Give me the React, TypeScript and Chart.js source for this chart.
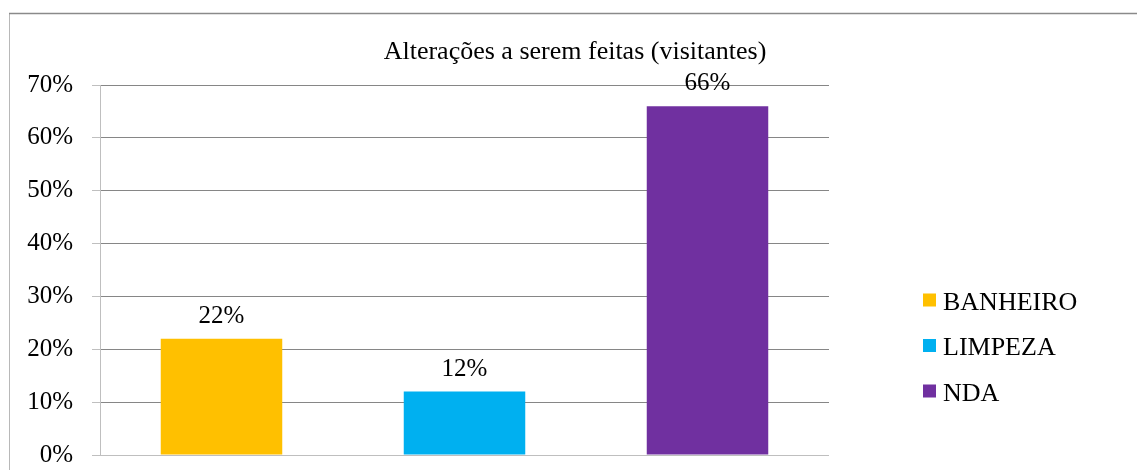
import React, { useEffect, useRef } from "react";
import { Chart, registerables } from "chart.js";

Chart.register(...registerables);

const categories = ["BANHEIRO", "LIMPEZA", "NDA"];
const percentValues = [22, 12, 66];
const barColors = ["#FFC000", "#00B0F0", "#7030A0"];
const yTickValues = [0, 10, 20, 30, 40, 50, 60, 70];
const chartTitle = "Alterações a serem feitas (visitantes)";

const SERIF = '"Liberation Serif", "Times New Roman", serif';

const framePlugin = {
  id: "frame",
  beforeDraw(chart: any) {
    const { ctx, width, height } = chart;
    ctx.save();
    ctx.fillStyle = "#ffffff";
    ctx.fillRect(0, 0, width, height);
    ctx.lineWidth = 1;
    ctx.strokeStyle = "#b8b8b8";
    ctx.beginPath();
    ctx.moveTo(9.5, 13);
    ctx.lineTo(9.5, height);
    ctx.stroke();
    ctx.lineWidth = 1.5;
    ctx.strokeStyle = "#8a8a8a";
    ctx.beginPath();
    ctx.moveTo(9, 13.5);
    ctx.lineTo(width, 13.5);
    ctx.stroke();
    ctx.restore();
  },
};

const titleLegendPlugin = {
  id: "titleLegend",
  afterDraw(chart: any) {
    const { ctx } = chart;
    ctx.save();
    ctx.fillStyle = "#000000";
    ctx.font = `26px ${SERIF}`;
    ctx.textAlign = "center";
    ctx.textBaseline = "alphabetic";
    ctx.fillText(chartTitle, 575, 59);

    const boxX = 923;
    const firstRow = 300;
    const rowGap = 45.5;
    const box = 13;
    ctx.textAlign = "left";
    categories.forEach((name, i) => {
      const cy = firstRow + i * rowGap;
      ctx.fillStyle = barColors[i];
      ctx.fillRect(boxX, cy - box / 2, box, box);
      ctx.fillStyle = "#000000";
      ctx.fillText(name, boxX + 20, cy + 9.5);
    });
    ctx.restore();
  },
};

const valueLabelPlugin = {
  id: "valueLabels",
  afterDatasetsDraw(chart: any) {
    const { ctx } = chart;
    const meta = chart.getDatasetMeta(0);
    ctx.save();
    ctx.fillStyle = "#000000";
    ctx.font = `25px ${SERIF}`;
    ctx.textAlign = "center";
    ctx.textBaseline = "alphabetic";
    meta.data.forEach((bar: any, i: number) => {
      ctx.fillText(`${percentValues[i]}%`, bar.x, bar.y - 16);
    });
    ctx.restore();
  },
};

export default function App() {
  const canvasRef = useRef<HTMLCanvasElement | null>(null);

  useEffect(() => {
    const canvas = canvasRef.current;
    if (!canvas) return;
    const chart = new Chart(canvas, {
      type: "bar",
      data: {
        labels: categories,
        datasets: [
          {
            label: chartTitle,
            data: percentValues,
            backgroundColor: barColors,
            borderWidth: 0,
            barPercentage: 0.5,
            categoryPercentage: 1,
          },
        ],
      },
      options: {
        responsive: false,
        maintainAspectRatio: false,
        animation: false,
        devicePixelRatio: 1,
        layout: { padding: { left: 0, top: 85, right: 308, bottom: 15 } },
        plugins: {
          legend: { display: false },
          title: { display: false },
          tooltip: { enabled: false },
        },
        scales: {
          x: {
            display: false,
            offset: true,
          },
          y: {
            min: 0,
            max: 70,
            afterFit(scale: any) {
              scale.width = 100;
              scale.paddingTop = 0;
              scale.paddingBottom = 0;
            },
            afterBuildTicks(scale: any) {
              scale.ticks = yTickValues.map((v) => ({ value: v }));
            },
            ticks: {
              padding: 19,
              color: "#000000",
              font: { family: SERIF, size: 25 },
              callback: (v: any) => `${v}%`,
            },
            grid: {
              color: (c: any) => (c.tick && c.tick.value === 0 ? "#bfbfbf" : "#868686"),
              tickColor: "#bfbfbf",
              tickLength: 8,
              lineWidth: 1,
            },
            border: { display: true, color: "#bfbfbf", width: 1 },
          },
        },
      },
      plugins: [framePlugin, valueLabelPlugin, titleLegendPlugin],
    });
    return () => chart.destroy();
  }, []);

  return (
    <div style={{ position: "absolute", left: 0, top: 0, width: 1137, height: 470 }}>
      <canvas ref={canvasRef} width={1137} height={470} style={{ display: "block" }} />
    </div>
  );
}
